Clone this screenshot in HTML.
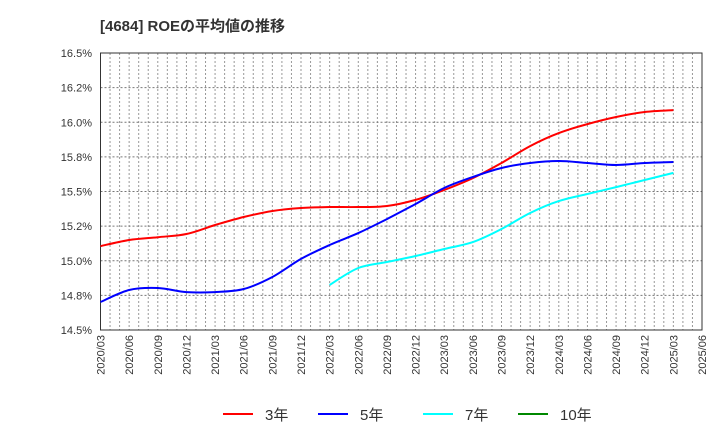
<!DOCTYPE html>
<html><head><meta charset="utf-8"><style>
body{margin:0;background:#fff;font-family:"Liberation Sans","Noto Sans CJK JP",sans-serif}
</style></head><body>
<svg id="c" width="720" height="440" xmlns="http://www.w3.org/2000/svg">
<text x="100" y="31" font-size="15" font-weight="bold" fill="#333" font-family="Liberation Sans, Noto Sans CJK JP, sans-serif">[4684]  ROEの平均値の推移</text>
<g id="grid"></g><g id="axes"></g><g id="series"></g>
<g id="legend"></g>
</svg>
<script>
const xLabels=["2020/03","2020/06","2020/09","2020/12","2021/03","2021/06","2021/09","2021/12","2022/03","2022/06","2022/09","2022/12","2023/03","2023/06","2023/09","2023/12","2024/03","2024/06","2024/09","2024/12","2025/03","2025/06"];
const yTicks=[14.5,14.75,15.0,15.25,15.5,15.75,16.0,16.25,16.5];
const yTickLabels=["14.5%","14.8%","15.0%","15.2%","15.5%","15.8%","16.0%","16.2%","16.5%"];
const s3=[15.106,15.15,15.17,15.193,15.258,15.316,15.359,15.381,15.388,15.388,15.395,15.439,15.511,15.597,15.706,15.828,15.922,15.987,16.038,16.074,16.088];
const s5=[14.702,14.789,14.803,14.774,14.774,14.796,14.883,15.013,15.114,15.2,15.301,15.41,15.525,15.605,15.67,15.706,15.72,15.706,15.691,15.706,15.713];
const s7=[null,null,null,null,null,null,null,null,14.825,14.948,14.991,15.034,15.085,15.135,15.229,15.345,15.431,15.482,15.532,15.583,15.634];
const s10=[];
const L=100.5,R=702,T=53,B=330,NS="http://www.w3.org/2000/svg";
const xs=i=>L+(R-L)*i/21;
const ys=v=>B-(v-14.5)/2*(B-T);
function mk(t,a,p){const e=document.createElementNS(NS,t);for(const k in a)e.setAttribute(k,a[k]);p.appendChild(e);return e;}
const g=document.getElementById('grid'),ax=document.getElementById('axes'),se=document.getElementById('series'),lg=document.getElementById('legend');
for(let m=1;m<63;m++){const x=L+(R-L)*m/63;const l=mk('line',{x1:x,x2:x,y1:T,y2:B,stroke:'#999','stroke-dasharray':'2,2','stroke-width':1},g);

}
yTicks.forEach((v,i)=>{const y=ys(v);
if(i>0&&i<yTicks.length-1){const l=mk('line',{x1:L,x2:R,y1:y,y2:y,stroke:'#777','stroke-dasharray':'2,2','stroke-width':1},g);

}
const t=mk('text',{x:92,y:y+4,'text-anchor':'end','font-size':11,fill:'#333'},ax);t.textContent=yTickLabels[i];

});
xLabels.forEach((s,i)=>{const x=xs(i);const t=mk('text',{x:0,y:0,'text-anchor':'end','font-size':11,fill:'#333',transform:`translate(${x+4},335) rotate(-90)`},ax);t.textContent=s;

});
const fr=mk('rect',{x:L,y:T,width:R-L,height:B-T,fill:'none',stroke:'#333','stroke-width':1},ax);


function line(d,c,name){const pts=[];d.forEach((v,i)=>{if(v!=null)pts.push([xs(i),ys(v)]);});
if(pts.length<2)return;let p='M'+pts[0][0].toFixed(1)+','+pts[0][1].toFixed(1);
for(let i=0;i<pts.length-1;i++){const p0=pts[Math.max(0,i-1)],p1=pts[i],p2=pts[i+1],p3=pts[Math.min(pts.length-1,i+2)];
const c1=[p1[0]+(p2[0]-p0[0])/6,p1[1]+(p2[1]-p0[1])/6],c2=[p2[0]-(p3[0]-p1[0])/6,p2[1]-(p3[1]-p1[1])/6];
p+=`C${c1[0].toFixed(1)},${c1[1].toFixed(1)} ${c2[0].toFixed(1)},${c2[1].toFixed(1)} ${p2[0].toFixed(1)},${p2[1].toFixed(1)}`;}
const e=mk('path',{d:p,fill:'none',stroke:c,'stroke-width':2,'stroke-linejoin':'round'},se);

}
line(s3,'#f00','series-3yr');line(s5,'#00f','series-5yr');line(s7,'#0ff','series-7yr');line(s10,'#080','series-10yr');
[["3年",'#f00',223],["5年",'#00f',318],["7年",'#0ff',423],["10年",'#080',518]].forEach(([n,c,x])=>{
const l=mk('line',{x1:x,x2:x+30,y1:414,y2:414,stroke:c,'stroke-width':2},lg);


const t=mk('text',{x:x+42,y:420,'font-size':15,fill:'#333'},lg);t.textContent=n;

});
</script>
</body></html>
